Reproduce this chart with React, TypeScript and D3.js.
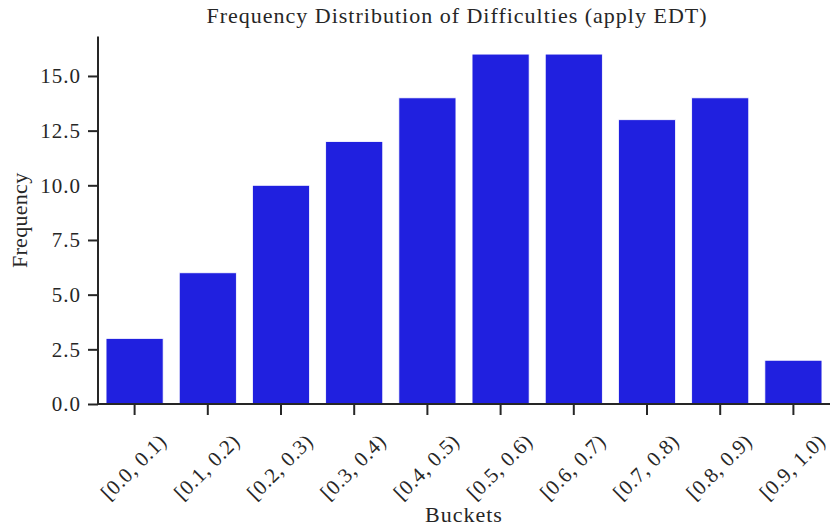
import React, { useEffect, useRef } from 'react'
import * as d3 from 'd3'

const buckets = ['[0.0, 0.1)', '[0.1, 0.2)', '[0.2, 0.3)', '[0.3, 0.4)', '[0.4, 0.5)',
  '[0.5, 0.6)', '[0.6, 0.7)', '[0.7, 0.8)', '[0.8, 0.9)', '[0.9, 1.0)']
const frequencies = [3, 6, 10, 12, 14, 16, 16, 13, 14, 2]
const yTicks = [0, 2.5, 5, 7.5, 10, 12.5, 15]
const yMax = 16.8

export default function App() {
  const svgRef = useRef<SVGSVGElement>(null)
  const width = 830
  const height = 532

  useEffect(() => {
    if (!svgRef.current) return
    const svg = d3.select(svgRef.current)
    svg.selectAll('*').remove()

    const font = "'Liberation Serif', 'DejaVu Serif', serif"
    const ink = '#262626'
    const left = 98, right = 830, top = 36.6, bottom = 404

    const x = d3.scaleBand<string>()
      .domain(buckets)
      .range([left, right])
      .paddingInner(0.22)
      .paddingOuter(0.11)

    const y = d3.scaleLinear().domain([0, yMax]).range([bottom, top])

    // bars
    svg.append('g')
      .selectAll('rect')
      .data(buckets)
      .enter()
      .append('rect')
      .attr('x', d => x(d)!)
      .attr('width', x.bandwidth())
      .attr('y', (d, i) => y(frequencies[i]))
      .attr('height', (d, i) => bottom - y(frequencies[i]))
      .attr('fill', '#2020df')
      .attr('stroke', '#ffffff')
      .attr('stroke-width', 0.8)

    // y axis
    const yAxis = svg.append('g')
      .attr('transform', `translate(${left},0)`)
      .call(d3.axisLeft(y).tickValues(yTicks).tickFormat(d3.format('.1f')).tickSize(10).tickPadding(7))
    yAxis.select('.domain').attr('stroke', ink).attr('stroke-width', 2).attr('d', `M0,${top}V${bottom}`)
    yAxis.selectAll('.tick line').attr('stroke', ink).attr('stroke-width', 2)
    yAxis.selectAll('.tick text')
      .attr('fill', ink)
      .style('font-family', font)
      .style('font-size', '21px')
      .style('letter-spacing', '1px')

    // x axis
    const xAxis = svg.append('g')
      .attr('transform', `translate(0,${bottom})`)
      .call(d3.axisBottom(x).tickSize(11).tickFormat(() => ''))
    xAxis.select('.domain').attr('stroke', ink).attr('stroke-width', 2).attr('d', `M${left},0H${right}`)
    xAxis.selectAll('.tick line').attr('stroke', ink).attr('stroke-width', 2)

    svg.append('g')
      .selectAll('text')
      .data(buckets)
      .enter()
      .append('text')
      .attr('transform', d => `translate(${x(d)! + x.bandwidth() / 2 - 1},${bottom + 63}) rotate(-45)`)
      .attr('text-anchor', 'middle')
      .attr('dominant-baseline', 'central')
      .attr('fill', ink)
      .style('font-family', font)
      .style('font-size', '21px')
      .style('letter-spacing', '0.6px')
      .text(d => d)

    // labels
    svg.append('text')
      .attr('x', 457)
      .attr('y', 23)
      .attr('text-anchor', 'middle')
      .attr('fill', ink)
      .style('font-family', font)
      .style('font-size', '22px')
      .style('letter-spacing', '1px')
      .text('Frequency Distribution of Difficulties (apply EDT)')

    svg.append('text')
      .attr('x', 464)
      .attr('y', 522)
      .attr('text-anchor', 'middle')
      .attr('fill', ink)
      .style('font-family', font)
      .style('font-size', '22px')
      .style('letter-spacing', '1px')
      .text('Buckets')

    svg.append('text')
      .attr('transform', `translate(27,${(top + bottom) / 2}) rotate(-90)`)
      .attr('text-anchor', 'middle')
      .attr('fill', ink)
      .style('font-family', font)
      .style('font-size', '22px')
      .style('letter-spacing', '0.3px')
      .text('Frequency')
  }, [])

  return (
    <svg
      ref={svgRef}
      width={width}
      height={height}
      style={{ position: 'absolute', left: 0, top: 0, background: '#ffffff' }}
    />
  )
}
